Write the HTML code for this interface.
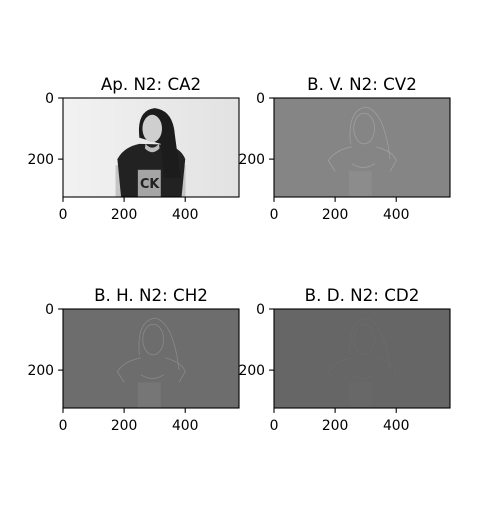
<!DOCTYPE html>
<html><head><meta charset="utf-8"><style>
body{margin:0;background:#fff;}
svg text{font-family:"DejaVu Sans","Liberation Sans",sans-serif;}
</style></head><body>
<svg id="fig" width="500" height="500" viewBox="0 0 500 500" xmlns="http://www.w3.org/2000/svg">
<defs>
<linearGradient id="bg" x1="0" x2="1" y1="0" y2="0"><stop offset="0" stop-color="#f2f2f2"/><stop offset="1" stop-color="#e2e2e2"/></linearGradient>
</defs>
</svg>
<script>
const panelTitles = ["Ap. N2: CA2", "B. V. N2: CV2", "B. H. N2: CH2", "B. D. N2: CD2"];
const xTicks = [0, 200, 400];
const yTicks = [0, 200];
const imgW = 576, imgH = 324;
const panelFill = ["url(#bg)", "#858585", "#6d6d6d", "#666666"];
const panelLeft = [63, 274, 63, 274];
const panelTop = [98, 98, 309, 309];
const NS = "http://www.w3.org/2000/svg";
const fig = document.getElementById('fig');
const AW = 176, AH = 99;
function mk(tag, attrs, parent){const e=document.createElementNS(NS,tag);for(const k in attrs)e.setAttribute(k,attrs[k]);(parent||fig).appendChild(e);return e;}
function drawImage(i, g){
  const s = mk('svg',{x:0,y:0,width:AW,height:AH,viewBox:`0 0 ${imgW} ${imgH}`,preserveAspectRatio:'none'},g);
  mk('rect',{x:0,y:0,width:imgW,height:imgH,fill:panelFill[i]},s);
  if(i===0){
    mk('rect',{x:172,y:220,width:18,height:104,fill:'#c4c4c4'},s);
    mk('rect',{x:385,y:220,width:16,height:104,fill:'#c4c4c4'},s);
    mk('path',{d:'M190 324 L178 200 Q200 160 250 150 L330 152 Q385 160 400 200 L388 324 Z',fill:'#222'},s);
    mk('path',{d:'M250 130 Q240 40 300 33 Q360 40 366 120 L385 262 L330 262 L320 150 Z',fill:'#1c1c1c'},s);
    mk('ellipse',{cx:292,cy:100,rx:32,ry:45,fill:'#cfcfcf'},s);
    mk('path',{d:'M270 150 Q292 175 314 150 L316 165 Q292 190 268 165 Z',fill:'#bdbdbd'},s);
    mk('rect',{x:245,y:235,width:75,height:89,fill:'#a5a5a5'},s);
    mk('text',{x:252,y:295,'font-size':42,fill:'#222','font-weight':'bold'},s).textContent='CK';
  } else {
    const col = i===1?'#a0a0a0':(i===2?'#8a8a8a':'#6e6e6e');
    const sw = i===3?1.5:2.5;
    mk('ellipse',{cx:295,cy:100,rx:34,ry:50,fill:'none',stroke:col,'stroke-width':sw},s);
    mk('path',{d:'M255 160 Q200 170 178 205 L200 240 M335 160 Q390 175 400 205 L380 240',fill:'none',stroke:col,'stroke-width':sw},s);
    mk('path',{d:'M250 150 Q240 40 300 30 Q360 40 380 200',fill:'none',stroke:col,'stroke-width':sw},s);
    mk('path',{d:'M255 215 Q292 240 330 215',fill:'none',stroke:col,'stroke-width':sw},s);
    mk('rect',{x:245,y:240,width:75,height:84,fill:col,opacity:0.3},s);
  }
}
for(let i=0;i<4;i++){
  const g = mk('g',{transform:`translate(${panelLeft[i]},${panelTop[i]})`});
  
  
  drawImage(i,g);
  const fr = mk('rect',{x:0,y:0,width:AW,height:AH,fill:'none',stroke:'#000','stroke-width':1.1},g);
  
  
  const t = mk('text',{x:AW/2,y:-8,'text-anchor':'middle','font-size':16.7},g);
  
  
  t.textContent = panelTitles[i];
  const sx = v=>v/imgW*AW, sy = v=>v/imgH*AH;
  xTicks.forEach(v=>{
    mk('line',{x1:sx(v),x2:sx(v),y1:AH,y2:AH+4.9,stroke:'#000','stroke-width':1.1},g);
    const l = mk('text',{x:sx(v),y:AH+22,'text-anchor':'middle','font-size':13.9},g);
    
    
    l.textContent = v;
  });
  yTicks.forEach(v=>{
    mk('line',{x1:-4.9,x2:0,y1:sy(v),y2:sy(v),stroke:'#000','stroke-width':1.1},g);
    const l = mk('text',{x:-9,y:sy(v)+5,'text-anchor':'end','font-size':13.9},g);
    
    
    l.textContent = v;
  });
}
</script>
</body></html>
